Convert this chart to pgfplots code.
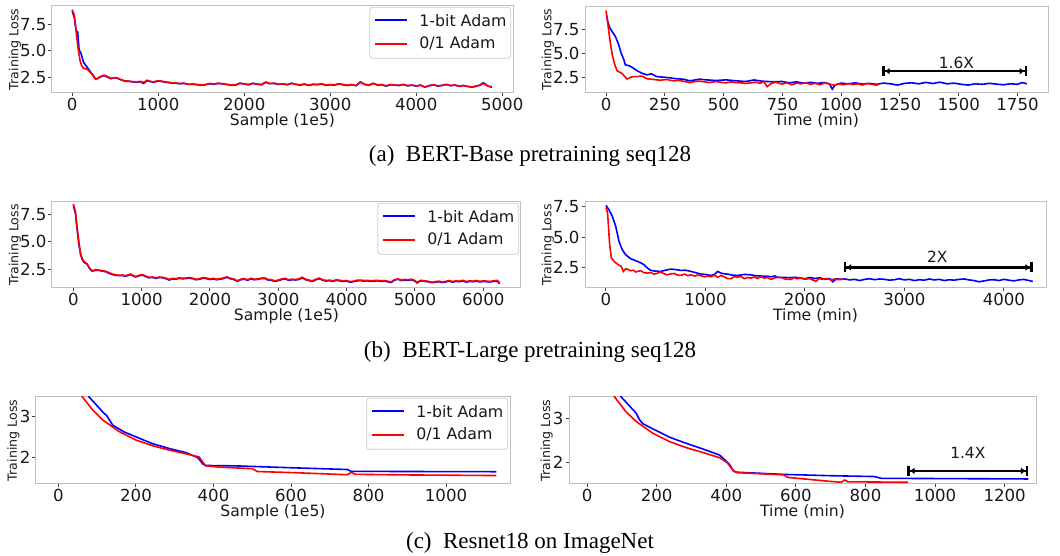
\documentclass[border=0pt]{standalone}
\usepackage{fontspec}
\setmainfont{DejaVu Sans}
\newfontfamily\capfont{Liberation Serif}
\usepackage{pgfplots}
\pgfplotsset{compat=1.18}
\usetikzlibrary{arrows.meta}
\definecolor{spine}{HTML}{C0C0C0}
\definecolor{tickc}{HTML}{404040}
\tikzset{
  gap/.style={line width=1.2pt, {Bar[width=5pt]Latex[length=2.5pt,width=3.5pt]}-{Latex[length=2.5pt,width=3.5pt]Bar[width=5pt]}},
  gaplabel/.style={font=\fontsize{7.7}{9}\selectfont, text=black!90},
  legtext/.style={anchor=west, inner sep=0pt, font=\fontsize{7.9}{9}\selectfont, text=black!90},
}
\pgfplotsset{
  lossax/.style={
    scale only axis, anchor=south west,
    axis line style={spine, line width=0.5pt},
    tick align=outside, tick pos=left,
    major tick length=1.75pt,
    every tick/.style={tickc, line width=0.5pt},
    tick label style={font=\fontsize{8.3}{9}\selectfont, text=black!90},
    xticklabel style={inner ysep=0.6pt},
    yticklabel style={inner xsep=0.8pt},
    /pgf/number format/assume math mode=true,
    /pgf/number format/1000 sep={},
    scaled x ticks=false,
    xlabel style={font=\fontsize{7.8}{9}\selectfont, text=black!90,
      at={([yshift=-14pt]axis description cs:0.5,0)}, anchor=center},
    ylabel style={font=\fontsize{6.3}{7}\selectfont, text=black!90},
    ylabel={Training Loss},
  },
  ylab/.style={ylabel style={at={([xshift=#1]axis description cs:0,0.5)}, anchor=center}},
  bertax/.style={ytick={2.5,5,7.5}, ylab=-18.5pt,
    yticklabel style={/pgf/number format/fixed, /pgf/number format/fixed zerofill,
      /pgf/number format/precision=1}},
  bl/.style={blue, line width=0.8pt},
  rd/.style={red, line width=0.8pt},
}
% legend box in the upper right corner of the current axis
\newcommand\adamlegend{%
  \node[draw=black!20, rounded corners=1.5pt, fill=white, anchor=north east,
    minimum width=70.5pt, minimum height=25.5pt, inner sep=0pt] (lg) at (rel axis cs:0.996,0.99) {};
  \draw[blue, line width=1pt] ([xshift=2.7pt,yshift=-6.7pt]lg.north west) -- ++(16pt,0pt);
  \node[legtext] at ([xshift=24.8pt,yshift=-6.7pt]lg.north west) {1-bit Adam};
  \draw[red, line width=1pt] ([xshift=2.7pt,yshift=-18.4pt]lg.north west) -- ++(16pt,0pt);
  \node[legtext] at ([xshift=24.8pt,yshift=-18.4pt]lg.north west) {0/1 Adam};
}
\begin{document}
\begin{tikzpicture}
\useasboundingbox (0,0) rectangle (530pt,278pt);

% ---------- (a) BERT-Base, samples
\begin{axis}[lossax, bertax, at={(26pt,231.5pt)}, width=230.5pt, height=43.5pt,
  xmin=-235, xmax=5125, ymin=1.06, ymax=9.19,
  xtick={0,1000,...,5000}, xlabel={Sample (1e5)}]
\addplot[bl] coordinates {
(0,8.7) (25,8.1) (45,6.9) (64,6.75) (80,5.1) (103,4.75) (131,3.95) (171,3.5) (211,3.05) (240,2.75)
(271,2.36) (300,2.42) (330,2.58) (371,2.68) (410,2.55) (450,2.4) (490,2.48) (530,2.42) (570,2.28) (611,2.17)
(650,2.15) (700,2.1) (750,2.06) (790,2.12) (830,1.95) (870,2.2) (910,2.12) (950,2.06) (990,2.16) (1030,2.15)
(1080,2.07) (1150,2.0) (1200,1.98) (1250,1.92) (1300,1.95) (1350,1.86) (1400,1.88) (1450,1.84) (1500,1.78) (1550,1.83)
(1600,1.92) (1650,1.88) (1700,1.95) (1750,1.9) (1800,1.86) (1850,1.78) (1900,1.8) (1950,1.98) (2000,1.9) (2050,1.82)
(2100,1.95) (2150,1.88) (2200,1.83) (2250,2.05) (2300,1.93) (2350,1.95) (2400,1.86) (2450,1.9) (2500,1.83) (2550,1.98)
(2600,1.86) (2650,1.8) (2700,1.88) (2750,1.77) (2800,1.86) (2850,1.84) (2900,1.9) (2950,1.78) (3000,1.83) (3050,1.8)
(3100,1.92) (3150,1.83) (3200,1.76) (3250,1.84) (3300,1.74) (3350,2.1) (3400,1.86) (3450,1.78) (3500,1.96) (3550,1.8)
(3600,1.83) (3650,1.7) (3700,1.84) (3750,1.79) (3800,1.76) (3850,1.86) (3900,1.73) (3950,1.79) (4000,1.7) (4050,1.8)
(4100,1.6) (4150,1.74) (4200,1.84) (4250,1.7) (4300,1.76) (4350,1.86) (4400,1.74) (4450,1.8) (4500,1.68) (4550,1.76)
(4600,1.66) (4650,1.6) (4700,1.7) (4740,1.8) (4780,2.02) (4820,1.78) (4850,1.66) (4880,1.6)
};
\addplot[rd] coordinates {
(0,8.85) (25,8.3) (40,7.25) (52,6.3) (72,5.05) (91,4.1) (110,3.6) (131,3.35) (171,3.3) (211,3.0)
(240,2.7) (271,2.35) (300,2.45) (330,2.6) (371,2.72) (410,2.6) (450,2.42) (490,2.5) (530,2.45) (570,2.3)
(611,2.2) (650,2.18) (700,2.12) (750,2.1) (790,2.15) (830,2.05) (870,2.25) (910,2.15) (950,2.1) (990,2.2)
(1030,2.18) (1080,2.1) (1150,2.03) (1200,2.0) (1250,1.95) (1300,1.98) (1350,1.88) (1400,1.9) (1450,1.85) (1500,1.8)
(1550,1.85) (1600,1.95) (1650,1.9) (1700,1.98) (1750,1.92) (1800,1.85) (1850,1.8) (1900,1.82) (1950,1.95) (2000,1.92)
(2050,1.85) (2100,1.98) (2150,1.9) (2200,1.85) (2250,2.08) (2300,1.95) (2350,1.98) (2400,1.88) (2450,1.92) (2500,1.85)
(2550,1.95) (2600,1.88) (2650,1.82) (2700,1.9) (2750,1.78) (2800,1.88) (2850,1.85) (2900,1.92) (2950,1.8) (3000,1.85)
(3050,1.82) (3100,1.9) (3150,1.85) (3200,1.78) (3250,1.85) (3300,1.75) (3350,2.05) (3400,1.88) (3450,1.8) (3500,1.95)
(3550,1.82) (3600,1.85) (3650,1.72) (3700,1.85) (3750,1.8) (3800,1.78) (3850,1.85) (3900,1.75) (3950,1.8) (4000,1.72)
(4050,1.78) (4100,1.62) (4150,1.75) (4200,1.82) (4250,1.72) (4300,1.78) (4350,1.85) (4400,1.75) (4450,1.82) (4500,1.7)
(4550,1.75) (4600,1.68) (4650,1.62) (4700,1.72) (4740,1.78) (4780,1.95) (4820,1.75) (4850,1.68) (4880,1.65)
};
\adamlegend
\end{axis}

% ---------- (a) BERT-Base, time
\begin{axis}[lossax, bertax, at={(292.5pt,231.5pt)}, width=231.5pt, height=43.5pt,
  xmin=-89.5, xmax=1879.5, ymin=0.9, ymax=9.9,
  xtick={0,250,...,1750}, xlabel={Time (min)}]
\addplot[bl] coordinates {
(3,8.9) (8,8.2) (17,7.6) (26,7.25) (40,6.74) (54,5.88) (64,5.02) (75,4.4) (82,3.81) (96,3.74)
(110,3.57) (131,3.22) (152,2.95) (173,2.78) (194,2.88) (215,2.6) (243,2.54) (272,2.47) (300,2.37) (328,2.33)
(356,2.16) (398,2.33) (426,2.26) (468,2.19) (510,2.26) (552,2.16) (594,2.09) (629,2.25) (664,2.12) (706,2.06)
(748,2.09) (780,1.95) (810,2.05) (840,1.92) (870,2.0) (900,1.9) (930,1.98) (950,1.85) (962,1.3) (975,1.75)
(1000,1.92) (1030,1.85) (1060,1.95) (1090,1.82) (1120,1.9) (1150,1.8) (1180,1.92) (1210,1.85) (1240,1.72) (1270,1.9)
(1300,1.95) (1330,1.85) (1360,2.0) (1390,1.88) (1420,2.02) (1450,1.85) (1480,1.92) (1510,1.8) (1540,1.72) (1570,1.85)
(1600,1.8) (1630,1.9) (1660,1.82) (1690,1.75) (1720,1.85) (1750,1.8) (1770,1.98) (1790,1.85)
};
\addplot[rd] coordinates {
(0,9.45) (8,8.0) (17,6.3) (26,4.9) (36,3.9) (47,3.2) (68,2.92) (89,2.35) (110,2.58) (131,2.6)
(152,2.65) (173,2.38) (202,2.3) (230,2.22) (258,2.3) (286,2.15) (310,2.2) (328,2.12) (356,1.98) (380,2.1)
(398,2.12) (420,2.05) (440,1.98) (468,2.08) (490,2.0) (510,1.95) (530,2.05) (552,1.98) (575,1.95) (594,1.88)
(615,1.95) (636,2.02) (655,1.9) (671,2.08) (685,1.55) (700,1.85) (720,2.02) (748,1.82) (770,1.95) (790,1.75)
(810,1.92) (830,1.85) (850,1.95) (870,1.8) (890,1.9) (910,1.75) (930,1.95) (950,1.82) (970,1.7) (990,1.85)
(1010,1.75) (1030,1.88) (1050,1.78) (1070,1.85) (1090,1.72) (1110,1.88) (1130,1.8) (1150,1.7) (1162,1.85)
};
\draw[gap] (axis cs:1175,3.16) -- (axis cs:1790,3.16);
\node[gaplabel] at (axis cs:1490,4.05) {1.6X};
\end{axis}

\node[font=\capfont\fontsize{11.5}{13}\selectfont] at (265pt,200pt) {(a)\hspace{0.5em}BERT-Base pretraining seq128};

% ---------- (b) BERT-Large, samples
\begin{axis}[lossax, bertax, at={(26pt,134pt)}, width=234.5pt, height=43pt,
  xmin=-312, xmax=6552, ymin=0.8, ymax=8.62,
  xtick={0,1000,...,6000}, xlabel={Sample (1e5)}]
\addplot[bl] coordinates {
(0,8.3) (31,7.6) (56,6.1) (81,4.75) (115,3.7) (130,3.4) (154,3.15) (203,2.95) (240,2.55) (276,2.33)
(320,2.4) (375,2.4) (420,2.34) (472,2.28) (520,2.15) (570,2.02) (620,1.96) (669,1.92) (720,1.93) (766,1.86)
(800,1.95) (840,2.02) (880,1.88) (913,1.8) (960,1.9) (1012,1.97) (1060,1.84) (1110,1.73) (1160,1.76) (1207,1.67)
(1260,1.75) (1306,1.73) (1350,1.66) (1404,1.52) (1450,1.63) (1502,1.6) (1550,1.68) (1600,1.64) (1649,1.66) (1700,1.7)
(1750,1.64) (1796,1.55) (1850,1.6) (1900,1.7) (1943,1.66) (2000,1.57) (2050,1.63) (2090,1.55) (2150,1.6) (2200,1.66)
(2250,1.77) (2287,1.66) (2350,1.57) (2400,1.4) (2450,1.55) (2500,1.6) (2550,1.5) (2600,1.63) (2650,1.55) (2700,1.58)
(2750,1.65) (2800,1.67) (2850,1.53) (2900,1.5) (2950,1.4) (3000,1.47) (3050,1.57) (3100,1.63) (3150,1.5) (3200,1.55)
(3250,1.53) (3300,1.57) (3350,1.73) (3400,1.55) (3450,1.47) (3500,1.4) (3550,1.55) (3600,1.65) (3650,1.5) (3700,1.43)
(3750,1.47) (3800,1.4) (3850,1.5) (3900,1.45) (3950,1.4) (4000,1.43) (4050,1.33) (4100,1.37) (4150,1.45) (4200,1.47)
(4250,1.43) (4300,1.45) (4350,1.4) (4400,1.43) (4450,1.45) (4500,1.4) (4550,1.43) (4600,1.37) (4650,1.3) (4700,1.5)
(4750,1.6) (4800,1.47) (4850,1.53) (4900,1.5) (4950,1.55) (5000,1.43) (5030,1.26) (5080,1.45) (5150,1.4) (5200,1.35)
(5250,1.28) (5300,1.33) (5350,1.37) (5400,1.3) (5450,1.35) (5500,1.43) (5550,1.33) (5600,1.4) (5650,1.37) (5700,1.45)
(5750,1.33) (5800,1.4) (5850,1.37) (5900,1.43) (5950,1.35) (6000,1.4) (6050,1.37) (6100,1.35) (6150,1.4) (6200,1.45)
(6240,1.2)
};
\addplot[rd] coordinates {
(0,8.44) (31,7.77) (56,6.25) (81,5.05) (105,3.83) (130,3.5) (154,3.23) (203,2.98) (240,2.6) (276,2.37)
(320,2.45) (375,2.43) (420,2.38) (472,2.32) (520,2.2) (570,2.07) (620,2.0) (669,1.96) (720,1.98) (766,1.9)
(800,2.0) (840,2.07) (880,1.92) (913,1.83) (960,1.95) (1012,2.02) (1060,1.88) (1110,1.77) (1160,1.8) (1207,1.71)
(1260,1.8) (1306,1.77) (1350,1.7) (1404,1.59) (1450,1.68) (1502,1.65) (1550,1.72) (1600,1.68) (1649,1.71) (1700,1.75)
(1750,1.68) (1796,1.59) (1850,1.65) (1900,1.75) (1943,1.71) (2000,1.62) (2050,1.68) (2090,1.59) (2150,1.65) (2200,1.72)
(2250,1.82) (2287,1.7) (2350,1.62) (2400,1.45) (2450,1.6) (2500,1.65) (2550,1.55) (2600,1.68) (2650,1.6) (2700,1.62)
(2750,1.7) (2800,1.72) (2850,1.58) (2900,1.55) (2950,1.45) (3000,1.52) (3050,1.62) (3100,1.68) (3150,1.55) (3200,1.6)
(3250,1.58) (3300,1.62) (3350,1.78) (3400,1.6) (3450,1.52) (3500,1.45) (3550,1.6) (3600,1.7) (3650,1.55) (3700,1.48)
(3750,1.52) (3800,1.45) (3850,1.55) (3900,1.5) (3950,1.45) (4000,1.48) (4050,1.38) (4100,1.42) (4150,1.5) (4200,1.52)
(4250,1.48) (4300,1.5) (4350,1.45) (4400,1.48) (4450,1.5) (4500,1.45) (4550,1.48) (4600,1.42) (4650,1.35) (4700,1.55)
(4750,1.62) (4800,1.52) (4850,1.58) (4900,1.55) (4950,1.6) (5000,1.48) (5030,1.3) (5080,1.5) (5150,1.45) (5200,1.4)
(5250,1.32) (5300,1.38) (5350,1.42) (5400,1.35) (5450,1.4) (5500,1.48) (5550,1.38) (5600,1.45) (5650,1.42) (5700,1.5)
(5750,1.38) (5800,1.45) (5850,1.42) (5900,1.48) (5950,1.4) (6000,1.45) (6050,1.42) (6100,1.4) (6150,1.45) (6200,1.5)
(6240,1.3)
};
\adamlegend
\end{axis}

% ---------- (b) BERT-Large, time
\begin{axis}[lossax, bertax, at={(292.5pt,134pt)}, width=230.5pt, height=43pt,
  xmin=-211, xmax=4423, ymin=0.84, ymax=7.89,
  xtick={0,1000,...,4000}, xlabel={Time (min)}]
\addplot[bl] coordinates {
(0,7.61) (30,7.25) (64,6.71) (98,5.89) (131,4.66) (164,3.97) (198,3.56) (249,3.24) (316,3.02) (350,2.9)
(383,2.74) (420,2.45) (450,2.28) (500,2.22) (551,2.2) (600,2.3) (652,2.39) (700,2.35) (752,2.28) (800,2.3)
(853,2.2) (900,2.1) (954,1.98) (1000,1.95) (1054,1.87) (1090,1.95) (1121,2.2) (1160,2.05) (1190,2.0) (1222,1.98)
(1270,1.9) (1322,1.87) (1390,1.95) (1457,1.92) (1500,1.85) (1558,1.82) (1620,1.8) (1659,1.76) (1700,1.82) (1730,1.7)
(1793,1.71) (1850,1.68) (1900,1.72) (1961,1.65) (2000,1.6) (2050,1.7) (2100,1.62) (2150,1.68) (2200,1.55) (2250,1.62)
(2280,1.35) (2320,1.6) (2360,1.55) (2400,1.58) (2450,1.5) (2500,1.55) (2550,1.45) (2600,1.55) (2650,1.6) (2700,1.52)
(2750,1.58) (2800,1.55) (2850,1.48) (2900,1.52) (2950,1.6) (3000,1.5) (3050,1.55) (3100,1.45) (3150,1.52) (3200,1.48)
(3250,1.58) (3300,1.5) (3350,1.55) (3400,1.45) (3450,1.52) (3500,1.48) (3550,1.55) (3600,1.58) (3650,1.5) (3700,1.45)
(3750,1.35) (3800,1.42) (3850,1.5) (3900,1.52) (3950,1.45) (4000,1.55) (4050,1.48) (4100,1.42) (4150,1.5) (4200,1.55)
(4250,1.45) (4290,1.38)
};
\addplot[rd] coordinates {
(0,7.45) (16,6.98) (26,5.75) (37,4.38) (54,3.29) (81,3.02) (114,2.8) (154,2.61) (175,2.2) (198,2.42)
(225,2.35) (249,2.25) (275,2.3) (299,2.15) (325,2.22) (349,2.25) (380,2.1) (416,2.06) (450,2.1) (483,1.98)
(520,2.05) (551,2.15) (585,2.0) (618,1.92) (650,2.0) (685,2.03) (720,1.9) (752,1.87) (790,1.98) (820,1.85)
(853,1.92) (890,1.82) (920,1.9) (954,1.85) (990,1.75) (1020,1.82) (1054,1.76) (1090,1.9) (1125,1.7) (1155,1.87)
(1190,1.75) (1220,1.62) (1256,1.6) (1290,1.78) (1320,1.72) (1357,1.79) (1390,1.6) (1420,1.7) (1457,1.65) (1490,1.75)
(1520,1.62) (1558,1.76) (1590,1.65) (1620,1.7) (1659,1.54) (1690,1.65) (1720,1.72) (1759,1.71) (1790,1.6) (1820,1.55)
(1860,1.54) (1890,1.68) (1920,1.6) (1961,1.65) (2000,1.55) (2040,1.62) (2080,1.5) (2110,1.38) (2140,1.6) (2180,1.55)
(2220,1.62) (2260,1.5) (2300,1.58) (2340,1.52) (2390,1.6)
};
\draw[gap] (axis cs:2390,2.53) -- (axis cs:4290,2.53);
\node[gaplabel] at (axis cs:3330,3.4) {2X};
\end{axis}

\node[font=\capfont\fontsize{11.5}{13}\selectfont] at (265pt,102pt) {(b)\hspace{0.5em}BERT-Large pretraining seq128};

% ---------- (c) Resnet18, samples
\begin{axis}[lossax, ylab=-11.3pt, at={(18pt,36pt)}, width=237pt, height=43.5pt,
  xmin=-58, xmax=1165, ymin=1.33, ymax=3.49,
  xtick={0,200,...,1000}, ytick={2,3}, xlabel={Sample (1e5)}]
\addplot[bl] coordinates {
(72,3.62) (79,3.49) (114,3.12) (125,3.02) (140,2.79) (170,2.62) (200,2.5) (243,2.33) (286,2.21) (329,2.11)
(360,1.98) (372,1.83) (380,1.79) (457,1.78) (612,1.73) (745,1.69) (755,1.645) (900,1.64) (1130,1.635)
};
\addplot[rd] coordinates {
(55,3.62) (62,3.49) (88,3.17) (114,2.92) (157,2.63) (200,2.42) (243,2.28) (286,2.17) (329,2.08) (363,2.0)
(372,1.88) (380,1.78) (414,1.75) (500,1.71) (513,1.64) (612,1.61) (745,1.56) (756,1.62) (766,1.57) (900,1.555)
(1130,1.54)
};
\adamlegend
\end{axis}

% ---------- (c) Resnet18, time
\begin{axis}[lossax, ylab=-11.2pt, at={(284.5pt,36pt)}, width=233.5pt, height=43.5pt,
  xmin=-52, xmax=1290, ymin=1.5, ymax=3.49,
  xtick={0,200,...,1200}, ytick={2,3}, xlabel={Time (min)}]
\addplot[bl] coordinates {
(88,3.62) (98,3.49) (141,3.12) (150,2.98) (160,2.88) (189,2.76) (237,2.57) (285,2.43) (333,2.3) (381,2.16)
(400,2.02) (410,1.94) (420,1.8) (429,1.77) (564,1.72) (698,1.69) (826,1.67) (845,1.63) (1268,1.615)
};
\addplot[rd] coordinates {
(70,3.62) (79,3.49) (112,3.15) (141,2.93) (189,2.66) (237,2.47) (285,2.33) (333,2.22) (381,2.1) (400,2.0)
(405,1.96) (420,1.81) (429,1.76) (564,1.71) (578,1.65) (698,1.56) (730,1.54) (740,1.59) (750,1.55) (922,1.54)
};
\draw[gap] (axis cs:920,1.8) -- (axis cs:1268,1.8);
\node[gaplabel] at (axis cs:1094,2.21) {1.4X};
\end{axis}

\node[font=\capfont\fontsize{11.5}{13}\selectfont] at (265pt,6.5pt) {(c)\hspace{0.5em}Resnet18 on ImageNet};
\end{tikzpicture}
\end{document}
